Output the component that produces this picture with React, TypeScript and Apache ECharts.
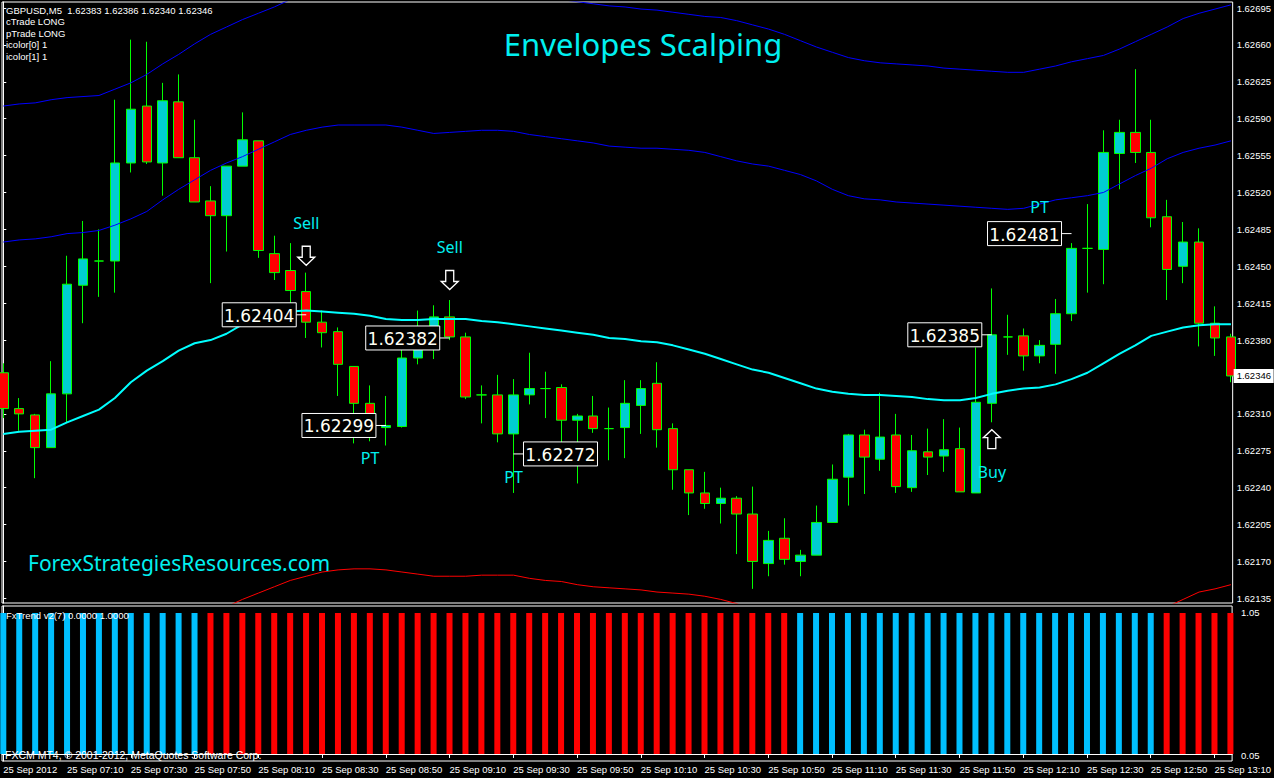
import React, { useEffect, useRef } from "react";
import * as echarts from "echarts";

// ---------- data ----------
const symbolName = "GBPUSD,M5";

const opens = [
  1.62349, 1.62315, 1.62309, 1.62278, 1.62329, 1.62432, 1.62455, 1.62455, 1.62548, 1.62602,
  1.62548, 1.62606, 1.62553, 1.62512, 1.62498, 1.62545, 1.62569, 1.62462, 1.62446, 1.62426,
  1.62397, 1.62388, 1.62355, 1.6232, 1.62297, 1.62298, 1.62363, 1.62392, 1.62402, 1.62383,
  1.62328, 1.62328, 1.62291, 1.62328, 1.62334, 1.62335, 1.62304, 1.62308, 1.62296, 1.62297,
  1.62318, 1.62339, 1.62296, 1.62257, 1.62235, 1.62225, 1.6223, 1.62215, 1.62168, 1.62192,
  1.6217, 1.62176, 1.62207, 1.6225, 1.6229, 1.62267, 1.6229, 1.6224, 1.62274, 1.6227,
  1.62277, 1.62235, 1.6232, 1.62383, 1.62384, 1.62365, 1.62376, 1.62405, 1.62467, 1.62466,
  1.62557, 1.62577, 1.62558, 1.62497, 1.6245, 1.62473, 1.62396, 1.62383,
];
const highs = [
  1.62358, 1.62325, 1.6231, 1.6236, 1.6246, 1.62493, 1.62485, 1.62608, 1.62665, 1.62663,
  1.62624, 1.62632, 1.62589, 1.62526, 1.62545, 1.62596, 1.62569, 1.62479, 1.62472, 1.62444,
  1.62408, 1.62392, 1.62355, 1.62337, 1.62327, 1.62371, 1.62408, 1.62413, 1.62418, 1.62387,
  1.62337, 1.62347, 1.62343, 1.62368, 1.6235, 1.62338, 1.6231, 1.62327, 1.62316, 1.62342,
  1.62342, 1.62359, 1.62301, 1.62257, 1.62255, 1.6224, 1.62232, 1.62241, 1.62199, 1.62211,
  1.62181, 1.62223, 1.62262, 1.62291, 1.62295, 1.6233, 1.6231, 1.6229, 1.62296, 1.62305,
  1.62297, 1.62373, 1.62429, 1.62404, 1.62391, 1.6238, 1.62419, 1.62472, 1.62509, 1.62579,
  1.62589, 1.62637, 1.62589, 1.62513, 1.62492, 1.62486, 1.62412, 1.62386,
];
const lows = [
  1.62306, 1.62294, 1.62249, 1.62278, 1.62302, 1.62396, 1.62421, 1.62425, 1.62539, 1.62547,
  1.62517, 1.62553, 1.62511, 1.62434, 1.62464, 1.62545, 1.62458, 1.62437, 1.62412, 1.62382,
  1.62373, 1.62327, 1.62282, 1.62284, 1.6228, 1.62297, 1.62357, 1.62362, 1.6238, 1.62324,
  1.62301, 1.62283, 1.62235, 1.62319, 1.62306, 1.62277, 1.62244, 1.62292, 1.62266, 1.62268,
  1.62291, 1.62278, 1.62238, 1.62214, 1.6222, 1.62206, 1.62177, 1.62144, 1.62156, 1.62167,
  1.62156, 1.62176, 1.62207, 1.62223, 1.62234, 1.62256, 1.62235, 1.62236, 1.62252, 1.62255,
  1.62236, 1.62235, 1.62302, 1.62366, 1.62351, 1.62358, 1.62348, 1.62398, 1.62425, 1.62433,
  1.62523, 1.62548, 1.62487, 1.62418, 1.62434, 1.62374, 1.62365, 1.6234,
];
const closes = [
  1.62315, 1.6231, 1.62278, 1.62329, 1.62433, 1.62457, 1.62455, 1.62548, 1.62599, 1.62549,
  1.62607, 1.62553, 1.62511, 1.62498, 1.62545, 1.6257, 1.62465, 1.62444, 1.62427, 1.62397,
  1.62387, 1.62357, 1.6232, 1.62298, 1.62299, 1.62363, 1.62392, 1.62402, 1.62383, 1.62326,
  1.62328, 1.62291, 1.62328, 1.62334, 1.62334, 1.62304, 1.62308, 1.62296, 1.62296, 1.6232,
  1.62334, 1.62295, 1.62257, 1.62235, 1.62225, 1.6223, 1.62215, 1.6217, 1.6219, 1.62172,
  1.62176, 1.62207, 1.62248, 1.6229, 1.62269, 1.62288, 1.62241, 1.62275, 1.62269, 1.62276,
  1.62236, 1.62321, 1.62385, 1.62383, 1.62365, 1.62375, 1.62405, 1.62467, 1.62467, 1.62558,
  1.62577, 1.62558, 1.62496, 1.62447, 1.62473, 1.62396, 1.62382, 1.62346,
];

// envelope lines
const maLine = [
  1.62291, 1.62293, 1.62294, 1.62295, 1.62302, 1.62308, 1.62314, 1.62325, 1.6234, 1.62351,
  1.6236, 1.6237, 1.62377, 1.6238, 1.62386, 1.62395, 1.62401, 1.62405, 1.62407, 1.62408,
  1.62407, 1.62406, 1.62405, 1.62403, 1.624, 1.62399, 1.62399, 1.624, 1.624, 1.624,
  1.62398, 1.62397, 1.62395, 1.62393, 1.62391, 1.62389, 1.62387, 1.62385, 1.62382, 1.62381,
  1.62379, 1.62378, 1.62375, 1.62371, 1.62367, 1.62362, 1.62357, 1.62352, 1.62349, 1.62344,
  1.62339, 1.62334, 1.62331, 1.62329, 1.62328, 1.62328, 1.62327, 1.62326, 1.62324, 1.62323,
  1.62323, 1.62325, 1.62329, 1.62332, 1.62334, 1.62335, 1.62338, 1.62343, 1.62349, 1.62358,
  1.62367, 1.62375, 1.62384, 1.62388, 1.62392, 1.62394, 1.62395, 1.62395,
];
const innerUpper = [
  1.62473, 1.62475, 1.62476, 1.62478, 1.62481, 1.62482, 1.62484, 1.62489, 1.62495, 1.62502,
  1.62513, 1.62523, 1.62532, 1.62541, 1.62548, 1.62554, 1.62561, 1.62568, 1.62575, 1.62579,
  1.62582, 1.62584, 1.62584, 1.62584, 1.62584, 1.62582, 1.62579, 1.62576, 1.62577, 1.62578,
  1.62579, 1.62579, 1.62578, 1.62575, 1.62573, 1.62571, 1.62569, 1.62567, 1.62564, 1.62563,
  1.62562, 1.62562, 1.62561, 1.6256, 1.62558, 1.62554, 1.6255, 1.62547, 1.62545, 1.62541,
  1.62537, 1.62531, 1.62523, 1.62517, 1.62514, 1.62513, 1.62511, 1.6251, 1.62509, 1.62508,
  1.62507, 1.62506, 1.62505, 1.62504, 1.62505, 1.62509, 1.62513, 1.62515, 1.62517, 1.6252,
  1.62528, 1.62536, 1.62543, 1.62552, 1.62558, 1.62562, 1.62565, 1.62569,
];
const outerUpper = [
  1.62602, 1.62604, 1.62605, 1.62608, 1.6261, 1.62611, 1.62612, 1.62618, 1.62624, 1.62632,
  1.62642, 1.62651, 1.62661, 1.6267, 1.62677, 1.62684, 1.6269, 1.62696, 1.62703, 1.62708,
  1.62711, 1.62713, 1.62714, 1.62714, 1.62713, 1.62712, 1.62708, 1.62706, 1.62706, 1.62707,
  1.62708, 1.62708, 1.62707, 1.62705, 1.62705, 1.62703, 1.62701, 1.62699, 1.62697, 1.62696,
  1.62694, 1.62693, 1.62691, 1.62689, 1.62687, 1.62686, 1.62683, 1.62679, 1.62675, 1.6267,
  1.62664, 1.62658, 1.62653, 1.62648, 1.62645, 1.62643, 1.62642, 1.62641, 1.6264, 1.62638,
  1.62637, 1.62636, 1.62635, 1.62634, 1.62634, 1.62637, 1.6264, 1.62644, 1.62647, 1.6265,
  1.62656, 1.62663, 1.6267, 1.62677, 1.62685, 1.6269, 1.62694, 1.62698,
];
const lowerEnv = [
  1.62084, 1.62084, 1.62084, 1.62084, 1.62085, 1.62086, 1.62088, 1.6209, 1.62094, 1.62099,
  1.62104, 1.62109, 1.62115, 1.62121, 1.62127, 1.62134, 1.6214, 1.62146, 1.62152, 1.62156,
  1.6216, 1.62162, 1.62163, 1.62163, 1.62162, 1.6216, 1.62158, 1.62156, 1.62156, 1.62156,
  1.62157, 1.62157, 1.62157, 1.62154, 1.62152, 1.62151, 1.62148, 1.62146, 1.62145, 1.62144,
  1.62143, 1.62141, 1.6214, 1.62139, 1.62137, 1.62134, 1.6213, 1.62124, 1.62119, 1.62114,
  1.62109, 1.62106, 1.62102, 1.621, 1.62098, 1.62097, 1.62096, 1.62096, 1.62096, 1.62096,
  1.62096, 1.62097, 1.62098, 1.621, 1.62102, 1.62105, 1.62107, 1.6211, 1.62113, 1.62116,
  1.62119, 1.62123, 1.62126, 1.62127, 1.62134, 1.62141, 1.62144, 1.62148,
];

// FxTrend histogram: 1 = up (blue), -1 = down (red)
const fxTrendDir = [
  1, 1, 1, 1, 1, 1, 1, 1, 1, 1, 1, 1, 1,
  -1, -1, -1, -1, -1, -1, -1, -1, -1, -1, -1, -1, -1, -1, -1, -1, -1, -1, -1, -1,
  -1, -1, -1, -1, -1, -1, -1, -1, -1, -1, -1, -1, -1, -1, -1, -1, -1,
  1, 1, 1, 1, 1, 1, 1, 1, 1, 1, 1, 1, 1, 1, 1, 1, 1, 1, 1, 1, 1, 1, 1,
  -1, -1, -1, -1, -1,
];
const fxTrendValue = [
  1, 1, 1, 1, 1, 1, 1, 1, 1, 1, 1, 1, 1, 1, 1, 1, 1, 1, 1, 1, 1, 1, 1, 1, 1, 1,
  1, 1, 1, 1, 1, 1, 1, 1, 1, 1, 1, 1, 1, 1, 1, 1, 1, 1, 1, 1, 1, 1, 1, 1, 1, 1,
  1, 1, 1, 1, 1, 1, 1, 1, 1, 1, 1, 1, 1, 1, 1, 1, 1, 1, 1, 1, 1, 1, 1, 1, 1, 1,
];

// axes
const priceTicks = [
  1.62135, 1.6217, 1.62205, 1.6224, 1.62275, 1.6231, 1.62345, 1.6238, 1.62415, 1.6245,
  1.62485, 1.6252, 1.62555, 1.6259, 1.62625, 1.6266, 1.62695,
];
const priceLabelValues = [
  1.62135, 1.6217, 1.62205, 1.6224, 1.62275, 1.6231, 1.6238, 1.62415, 1.6245,
  1.62485, 1.6252, 1.62555, 1.6259, 1.62625, 1.6266, 1.62695,
];
const timeTickIndex = [0, 4, 8, 12, 16, 20, 24, 28, 32, 36, 40, 44, 48, 52, 56, 60, 64, 68, 72, 76];
const timeLabels = [
  "25 Sep 2012", "25 Sep 07:10", "25 Sep 07:30", "25 Sep 07:50", "25 Sep 08:10",
  "25 Sep 08:30", "25 Sep 08:50", "25 Sep 09:10", "25 Sep 09:30", "25 Sep 09:50",
  "25 Sep 10:10", "25 Sep 10:30", "25 Sep 10:50", "25 Sep 11:10", "25 Sep 11:30",
  "25 Sep 11:50", "25 Sep 12:10", "25 Sep 12:30", "25 Sep 12:50", "25 Sep 13:10",
];
const subScaleLabels = ["1.05", "0.05"];

// annotations
const tagBar = [19, 28, 24, 32, 62, 67];
const tagPrice = [1.62404, 1.62382, 1.62299, 1.62272, 1.62385, 1.62481];
const tagSide = ["left", "left", "left", "right", "left", "left"];

const signalText = ["Sell", "Sell", "PT", "PT", "PT", "Buy"];
const signalBar = [19, 28, 23, 32, 65, 62];
const signalPrice = [1.62491, 1.62468, 1.62268, 1.6225, 1.62506, 1.62255];

const arrowBar = [19, 28, 62];
const arrowPrice = [1.6246, 1.62437, 1.62286];
const arrowDir = ["down", "down", "up"];

const infoLines = ["cTrade LONG", "pTrade LONG", "icolor[0] 1", "icolor[1] 1"];

// ---------- chart ----------
const X_MIN = -0.08125;
const X_MAX = 77.10625;
const AXIS_FONT = "Liberation Sans, Arial, sans-serif";

export default function App() {
  const ref = useRef<HTMLDivElement>(null);

  useEffect(() => {
    document.body.style.margin = "0";
    document.body.style.background = "#000";
    const chart = echarts.init(ref.current!, null, { renderer: "svg" });

    const last = opens.length - 1;
    const header = `${symbolName}  ${opens[last].toFixed(5)} ${highs[last].toFixed(5)} ${lows[last].toFixed(5)} ${closes[last].toFixed(5)}`;

    const candleData = opens.map((o, i) => [i, o, closes[i], lows[i], highs[i]]);
    const lineData = (arr: number[]) => arr.map((v, i) => [i, v]);
    const txt = (x: number, y: number, text: string, font: string, fill = "#fff", align = "left") => ({
      type: "text", x, y, z: 100, silent: true,
      style: { text, fill, font, align, verticalAlign: "middle" },
    });

    const option: any = {
      animation: false,
      backgroundColor: "#000",
      grid: [
        { left: 2, top: 2, width: 1235, height: 601, show: true, borderColor: "#fff", borderWidth: 1, backgroundColor: "transparent" },
        { left: 2, top: 606, width: 1235, height: 155, show: true, borderColor: "#fff", borderWidth: 1, backgroundColor: "transparent" },
      ],
      xAxis: [
        { type: "value", gridIndex: 0, min: X_MIN, max: X_MAX, show: false, splitLine: { show: false } },
        {
          type: "value", gridIndex: 1, min: X_MIN, max: X_MAX, position: "bottom",
          splitLine: { show: false },
          axisLine: { show: true, lineStyle: { color: "#fff", width: 1 } },
          axisTick: { show: true, customValues: timeTickIndex, length: 4, lineStyle: { color: "#fff" } },
          axisLabel: {
            show: true, customValues: timeTickIndex, color: "#fff", fontSize: 9.5, fontFamily: AXIS_FONT,
            align: "left", margin: 3,
            formatter: (v: number) => timeLabels[timeTickIndex.indexOf(Math.round(v))] || "",
          },
        },
      ],
      yAxis: [
        {
          type: "value", gridIndex: 0, position: "right", min: 1.621306, max: 1.627007, scale: true,
          splitLine: { show: false },
          axisLine: { show: true, lineStyle: { color: "#fff", width: 1 } },
          axisTick: { show: true, customValues: priceTicks, length: 3, lineStyle: { color: "#fff" } },
          axisLabel: {
            show: true, customValues: priceLabelValues, color: "#fff", fontSize: 9.5, fontFamily: AXIS_FONT,
            margin: 4, formatter: (v: number) => v.toFixed(5),
          },
        },
        {
          type: "value", gridIndex: 1, position: "right", min: -0.05, max: 1.05,
          splitLine: { show: false },
          axisLine: { show: true, lineStyle: { color: "#fff", width: 1 } },
          axisTick: { show: false },
          axisLabel: { show: false },
        },
      ],
      series: [
        {
          name: "Outer upper envelope", type: "line", xAxisIndex: 0, yAxisIndex: 0,
          data: lineData(outerUpper), symbol: "none", silent: true,
          lineStyle: { color: "#0000FF", width: 1 },
        },
        {
          name: "Inner upper envelope", type: "line", xAxisIndex: 0, yAxisIndex: 0,
          data: lineData(innerUpper), symbol: "none", silent: true,
          lineStyle: { color: "#0000FF", width: 1 },
        },
        {
          name: "Lower envelope", type: "line", xAxisIndex: 0, yAxisIndex: 0,
          data: lineData(lowerEnv), symbol: "none", silent: true,
          lineStyle: { color: "#FF0000", width: 1 },
        },
        {
          name: "GBPUSD", type: "candlestick", xAxisIndex: 0, yAxisIndex: 0, clip: true,
          data: candleData, encode: { x: 0, y: [1, 2, 3, 4] }, barWidth: 10, silent: true,
          itemStyle: {
            color: "#00CED1", color0: "#FF0000",
            borderColor: "#00FF00", borderColor0: "#00FF00", borderColorDoji: "#00FF00", borderWidth: 1,
          },
        },
        {
          name: "Moving average", type: "line", xAxisIndex: 0, yAxisIndex: 0,
          data: lineData(maLine), symbol: "none", silent: true, z: 3,
          lineStyle: { color: "#00FFFF", width: 2 },
        },
        {
          name: "FxTrend", type: "bar", xAxisIndex: 1, yAxisIndex: 1, barWidth: 6, silent: true,
          data: fxTrendValue.map((v, i) => ({
            value: [i, v],
            itemStyle: { color: fxTrendDir[i] > 0 ? "#00BFFF" : "#FF0000" },
          })),
        },
        {
          name: "Price tags", type: "custom", xAxisIndex: 0, yAxisIndex: 0, silent: true, z: 10,
          data: tagBar.map((b, i) => [b, tagPrice[i], i]),
          encode: { x: 0, y: 1 },
          renderItem: (params: any, api: any) => {
            const idx = api.value(2);
            const p = api.coord([api.value(0), api.value(1)]);
            const w = 74, h = 24, gap = 10;
            const left = tagSide[idx] === "left";
            const bx = left ? p[0] - gap - w : p[0] + gap;
            const lx1 = left ? bx + w : p[0];
            const lx2 = left ? p[0] : bx;
            return {
              type: "group",
              children: [
                { type: "line", shape: { x1: lx1, y1: p[1], x2: lx2, y2: p[1] }, style: { stroke: "#fff", lineWidth: 1 } },
                { type: "rect", shape: { x: bx, y: p[1] - h / 2, width: w, height: h }, style: { fill: "#000", stroke: "#fff", lineWidth: 1 } },
                {
                  type: "text", x: bx + w / 2, y: p[1] + 1,
                  style: { text: tagPrice[idx].toFixed(5), fill: "#fffff4", font: "17px 'DejaVu Sans', sans-serif", align: "center", verticalAlign: "middle" },
                },
              ],
            };
          },
        },
        {
          name: "Signals", type: "custom", xAxisIndex: 0, yAxisIndex: 0, silent: true, z: 10,
          data: signalBar.map((b, i) => [b, signalPrice[i], i]),
          encode: { x: 0, y: 1 },
          renderItem: (params: any, api: any) => {
            const idx = api.value(2);
            const p = api.coord([api.value(0), api.value(1)]);
            return {
              type: "text", x: p[0], y: p[1],
              style: { text: signalText[idx], fill: "#00F0F0", font: "16px 'Noto Sans', sans-serif", align: "center", verticalAlign: "middle" },
            };
          },
        },
        {
          name: "Arrows", type: "custom", xAxisIndex: 0, yAxisIndex: 0, silent: true, z: 10,
          data: arrowBar.map((b, i) => [b, arrowPrice[i], i]),
          encode: { x: 0, y: 1 },
          renderItem: (params: any, api: any) => {
            const idx = api.value(2);
            const p = api.coord([api.value(0), api.value(1)]);
            const s = arrowDir[idx] === "down" ? 1 : -1;
            const pts = [[-4, -9.5], [4, -9.5], [4, 1.5], [8.5, 1.5], [0, 9.5], [-8.5, 1.5], [-4, 1.5]].map(
              (q) => [p[0] + q[0], p[1] + s * q[1]]
            );
            return { type: "polygon", shape: { points: pts }, style: { fill: "#000", stroke: "#fff", lineWidth: 1.3 } };
          },
        },
        {
          name: "Last price", type: "custom", xAxisIndex: 0, yAxisIndex: 0, silent: true, z: 12,
          data: [[last, closes[last]]],
          encode: { x: 0, y: 1 },
          renderItem: (params: any, api: any) => {
            const p = api.coord([api.value(0), api.value(1)]);
            const x = params.coordSys.x + params.coordSys.width + 1;
            return {
              type: "group",
              children: [
                { type: "rect", shape: { x, y: p[1] - 7, width: 40, height: 14 }, style: { fill: "#fff" } },
                {
                  type: "text", x: x + 3, y: p[1],
                  style: { text: api.value(1).toFixed(5), fill: "#000", font: `9.5px ${AXIS_FONT}`, align: "left", verticalAlign: "middle" },
                },
              ],
            };
          },
        },
      ],
      graphic: [
        txt(6, 10, header, `9.5px ${AXIS_FONT}`),
        ...infoLines.map((t, i) => txt(6, 21.5 + i * 11.6, t, `9.5px ${AXIS_FONT}`)),
        txt(643, 44, "Envelopes Scalping", "31px 'Noto Sans', sans-serif", "#00F0F0", "center"),
        txt(28, 563, "ForexStrategiesResources.com", "21px 'Noto Sans', sans-serif", "#00F0F0"),
        txt(6, 615, "FxTrend v2(7) 0.0000 1.0000", `9.5px ${AXIS_FONT}`),
        txt(5, 755, "FXCM MT4, © 2001-2012, MetaQuotes Software Corp.", `10.5px ${AXIS_FONT}`),
        txt(1241, 612, subScaleLabels[0], `9.5px ${AXIS_FONT}`),
        txt(1241, 755, subScaleLabels[1], `9.5px ${AXIS_FONT}`),
      ],
    };

    chart.setOption(option);
    return () => chart.dispose();
  }, []);

  return <div ref={ref} style={{ width: 1274, height: 778, background: "#000" }} />;
}
